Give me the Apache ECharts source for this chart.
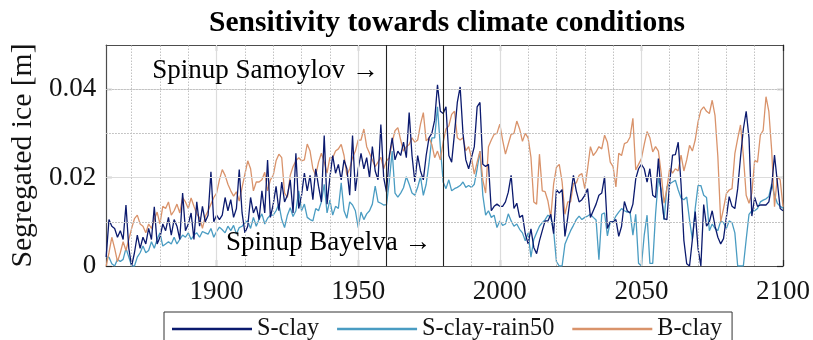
<!DOCTYPE html>
<html>
<head>
<meta charset="utf-8">
<script src="https://cdn.jsdelivr.net/npm/echarts@6/dist/echarts.min.js"></script>
<style>
  html, body { margin: 0; padding: 0; background: #fff; }
  #chart { width: 813px; height: 340px; }
</style>
</head>
<body>
<div id="chart"></div>
<script>
// Annual segregated ice, 1861-2100, one value per year (m)
const firstYear = 1861;
const lastYear = 2100;

const sClay = [
  0.002, 0.0105, 0.009, 0.0085, 0.0065, 0.008, 0.006, 0.0138, 0.004, 0.000,
  0.003, 0.007, 0.004, 0.0065, 0.005, 0.0085, 0.006, 0.0134, 0.005, 0.0065,
  0.0095, 0.008, 0.011, 0.007, 0.0105, 0.009, 0.006, 0.0165, 0.008, 0.0095,
  0.012, 0.006, 0.0145, 0.009, 0.0135, 0.010, 0.0115, 0.0213, 0.010, 0.0115,
  0.0105, 0.0115, 0.0155, 0.0125, 0.015, 0.011, 0.013, 0.0218, 0.012, 0.0075,
  0.009, 0.0155, 0.012, 0.0135, 0.0105, 0.017, 0.012, 0.024, 0.011, 0.014,
  0.018, 0.0125, 0.019, 0.0145, 0.016, 0.0195, 0.012, 0.0255, 0.013, 0.016,
  0.021, 0.017, 0.0205, 0.015, 0.022, 0.018, 0.0145, 0.0295, 0.014, 0.020,
  0.025, 0.021, 0.023, 0.0195, 0.024, 0.022, 0.016, 0.0295, 0.017, 0.022,
  0.0255, 0.022, 0.0245, 0.020, 0.027, 0.0215, 0.0195, 0.032, 0.020, 0.0167,
  0.025, 0.029, 0.024, 0.026, 0.025, 0.028, 0.0245, 0.0347, 0.025, 0.019,
  0.025, 0.0215, 0.0195, 0.025, 0.029, 0.030, 0.033, 0.041, 0.035, 0.0345,
  0.036, 0.025, 0.0235, 0.030, 0.037, 0.0405, 0.030, 0.024, 0.022, 0.0245,
  0.027, 0.036, 0.037, 0.023, 0.0225, 0.023, 0.0125, 0.0135, 0.014, 0.0135,
  0.0135, 0.0145, 0.0167, 0.0205, 0.013, 0.0142, 0.011, 0.0115, 0.0073, 0.005,
  0.0084, 0.0042, 0.0028, 0.0057, 0.008, 0.0102, 0.0102, 0.0117, 0.0073, 0.0173,
  0.0165, 0.0173, 0.0067, 0.011, 0.016, 0.0205, 0.017, 0.0145, 0.015, 0.016,
  0.0175, 0.011, 0.0125, 0.014, 0.016, 0.0165, 0.0202, 0.0085, 0.010, 0.010,
  0.0105, 0.0067, 0.009, 0.0146, 0.0125, 0.012, 0.014, 0.0197, 0.022, 0.023,
  0.022, 0.019, 0.022, 0.016, 0.0155, 0.0243, 0.016, 0.0107, 0.0105, 0.019,
  0.0251, 0.0252, 0.028, 0.0185, 0.0058, 0.0005, 0.000, 0.006, 0.0123, 0.004,
  0.000, 0.0139, 0.009, 0.010, 0.0125, 0.009, 0.0065, 0.005, 0.0062, 0.011,
  0.0157, 0.0135, 0.013, 0.0175, 0.0246, 0.031, 0.035, 0.029, 0.0113, 0.0155,
  0.0135, 0.0138, 0.0138, 0.0138, 0.0145, 0.018, 0.0251, 0.019, 0.013, 0.0125
];

const sClayRain50 = [
  0.002, 0.002, 0.0005, 0.000, 0.0015, 0.001, 0.0015, 0.004, 0.002, 0.000,
  0.000, 0.002, 0.003, 0.0045, 0.003, 0.0035, 0.0055, 0.004, 0.006, 0.0075,
  0.0045, 0.005, 0.0055, 0.005, 0.0065, 0.005, 0.006, 0.007, 0.0065, 0.0075,
  0.006, 0.007, 0.0075, 0.0065, 0.0078, 0.0075, 0.0072, 0.0085, 0.0065, 0.0078,
  0.0088, 0.0082, 0.0075, 0.009, 0.008, 0.0092, 0.0072, 0.0087, 0.009, 0.0098,
  0.0102, 0.0085, 0.011, 0.009, 0.0106, 0.0118, 0.0095, 0.0108, 0.0115, 0.0115,
  0.0125, 0.014, 0.0105, 0.0087, 0.0115, 0.0132, 0.0112, 0.0125, 0.017, 0.0125,
  0.014, 0.011, 0.0105, 0.0102, 0.013, 0.0125, 0.0145, 0.0185, 0.012, 0.0149,
  0.0115, 0.0135, 0.013, 0.0188, 0.0125, 0.0108, 0.0145, 0.0138, 0.0125, 0.0087,
  0.0122, 0.0105, 0.0118, 0.0125, 0.014, 0.0181, 0.0145, 0.0142, 0.0138, 0.0139,
  0.0193, 0.026, 0.0165, 0.0156, 0.0165, 0.0177, 0.0202, 0.0185, 0.0165, 0.016,
  0.0178, 0.0202, 0.016, 0.0185, 0.0232, 0.029, 0.029, 0.036, 0.027, 0.019,
  0.0175, 0.0195, 0.017, 0.0175, 0.0178, 0.0182, 0.019, 0.0178, 0.0182, 0.0178,
  0.0185, 0.022, 0.026, 0.016, 0.0115, 0.0125, 0.011, 0.0115, 0.0087, 0.0102,
  0.0092, 0.0095, 0.0118, 0.0102, 0.009, 0.0095, 0.0083, 0.0075, 0.0057, 0.0075,
  0.002, 0.006, 0.0075, 0.009, 0.0098, 0.0105, 0.0115, 0.011, 0.008, 0.001,
  0.000, 0.000, 0.0049, 0.0065, 0.008, 0.0092, 0.0105, 0.0113, 0.0105, 0.011,
  0.0113, 0.0117, 0.011, 0.0104, 0.0014, 0.0117, 0.012, 0.0068, 0.010, 0.010,
  0.0113, 0.0122, 0.013, 0.0125, 0.0122, 0.0122, 0.007, 0.0117, 0.0006, 0.000,
  0.007, 0.0115, 0.0006, 0.0006, 0.0117, 0.0199, 0.0173, 0.0104, 0.0179, 0.0186,
  0.019, 0.0194, 0.0172, 0.0154, 0.015, 0.0156, 0.0104, 0.006, 0.013, 0.0182,
  0.0182, 0.016, 0.0155, 0.008, 0.0095, 0.0085, 0.008, 0.0102, 0.0098, 0.0085,
  0.0102, 0.0098, 0.0075, 0.000, 0.000, 0.000, 0.006, 0.0117, 0.0125, 0.0125,
  0.013, 0.0145, 0.0149, 0.0152, 0.0157, 0.0186, 0.016, 0.0142, 0.0135, 0.0131
];

const bClay = [
  0.000, 0.003, 0.0065, 0.004, 0.001, 0.003, 0.0055, 0.0035, 0.006, 0.0085,
  0.0107, 0.0115, 0.0095, 0.009, 0.0075, 0.0095, 0.0085, 0.0105, 0.0122, 0.0095,
  0.0135, 0.013, 0.0145, 0.0115, 0.0125, 0.014, 0.012, 0.0155, 0.0145, 0.013,
  0.0154, 0.0135, 0.0118, 0.0109, 0.0085, 0.0112, 0.0125, 0.014, 0.0155, 0.0165,
  0.0195, 0.0218, 0.0205, 0.0185, 0.017, 0.0158, 0.0168, 0.0147, 0.0178, 0.0208,
  0.0238, 0.022, 0.017, 0.019, 0.019, 0.0195, 0.0212, 0.017, 0.0195, 0.0205,
  0.0238, 0.0253, 0.0245, 0.0165, 0.0155, 0.0205, 0.0225, 0.0238, 0.0245, 0.0238,
  0.024, 0.0276, 0.026, 0.022, 0.0205, 0.0235, 0.0255, 0.0235, 0.021, 0.0245,
  0.0245, 0.026, 0.0265, 0.0275, 0.025, 0.0205, 0.022, 0.0245, 0.026, 0.0285,
  0.0285, 0.031, 0.027, 0.0255, 0.024, 0.0225, 0.0235, 0.0246, 0.022, 0.0238,
  0.0245, 0.028, 0.0306, 0.0313, 0.0285, 0.026, 0.027, 0.0275, 0.029, 0.028,
  0.0285, 0.0321, 0.0347, 0.0283, 0.029, 0.0275, 0.0245, 0.026, 0.024, 0.028,
  0.031, 0.0317, 0.0343, 0.035, 0.029, 0.0285, 0.029, 0.0261, 0.027, 0.0245,
  0.0208, 0.0235, 0.026, 0.0195, 0.0165, 0.027, 0.0285, 0.0298, 0.030, 0.0321,
  0.0285, 0.0253, 0.0276, 0.0298, 0.030, 0.0328, 0.031, 0.0282, 0.030, 0.029,
  0.0246, 0.0145, 0.014, 0.0253, 0.017, 0.0168, 0.0147, 0.011, 0.0185, 0.0223,
  0.023, 0.019, 0.0117, 0.0145, 0.0145, 0.0187, 0.0188, 0.0205, 0.0209, 0.0175,
  0.022, 0.027, 0.025, 0.0258, 0.027, 0.0265, 0.0296, 0.028, 0.0235, 0.0225,
  0.0179, 0.0255, 0.025, 0.0277, 0.028, 0.0292, 0.0334, 0.0217, 0.023, 0.0243,
  0.0275, 0.0304, 0.029, 0.0258, 0.027, 0.026, 0.0209, 0.0142, 0.0175, 0.0221,
  0.021, 0.022, 0.0215, 0.0251, 0.0215, 0.024, 0.0273, 0.026, 0.0285, 0.0326,
  0.0352, 0.036, 0.035, 0.0345, 0.0375, 0.034, 0.0247, 0.010, 0.013, 0.0164,
  0.0172, 0.0175, 0.0254, 0.0288, 0.0319, 0.025, 0.016, 0.0142, 0.0165, 0.0239,
  0.0235, 0.0296, 0.0307, 0.0383, 0.035, 0.0262, 0.0134, 0.0202, 0.0195, 0.0134
];

const seriesNames = ['S-clay', 'S-clay-rain50', 'B-clay'];
const xTickValues = [1900, 1950, 2000, 2050, 2100];
const yTickValues = [0, 0.02, 0.04];
const xMinorGrid = [1870, 1880, 1890, 1910, 1920, 1930, 1940, 1970, 1990,
                    2010, 2020, 2030, 2040, 2060, 2070, 2080, 2090];
const yMinorGrid = [0.005, 0.01, 0.015, 0.025, 0.03, 0.035, 0.045];
const spinupYears = [1960, 1980];
const spinupLabels = [
  { name: 'Spinup Samoylov \u2192', year: 1959, value: 0.0441 },
  { name: 'Spinup Bayelva \u2192', year: 1977.6, value: 0.0052 }
];

const years = [];
for (let y = firstYear; y <= lastYear; y++) years.push(y);
const pairs = vals => years.map((y, i) => [y, vals[i]]);

const serif = '"Liberation Serif", "Times New Roman", "DejaVu Serif", serif';
const axisColor = '#4d4d4d';
const textColor = '#141414';

// Grid: solid light lines at major ticks, dotted lines at minor steps, plus the two spinup markers
const gridLines = [];
xTickValues.slice(0, 4).forEach(v => gridLines.push({ xAxis: v, lineStyle: { color: '#dcdcdc', width: 1.2, type: 'solid' } }));
yTickValues.slice(1).forEach(v => gridLines.push({ yAxis: v, lineStyle: { color: '#dcdcdc', width: 1.2, type: 'solid' } }));
xMinorGrid.forEach(v => gridLines.push({ xAxis: v, lineStyle: { color: '#c2c2c2', width: 1, type: [1.5, 1.5] } }));
yMinorGrid.forEach(v => gridLines.push({ yAxis: v, lineStyle: { color: '#c2c2c2', width: 1, type: [1.5, 1.5] } }));
spinupYears.forEach(v => gridLines.push({ xAxis: v, lineStyle: { color: '#222', width: 1.1, type: 'solid' } }));

const commonX = {
  type: 'value', min: firstYear, max: lastYear,
  axisLine: { show: true, onZero: false, lineStyle: { color: axisColor, width: 1.2 } },
  axisTick: { show: true, inside: true, length: 6, customValues: xTickValues, lineStyle: { color: '#222', width: 1.2 } },
  splitLine: { show: false }
};
const commonY = {
  type: 'value', min: 0, max: 0.05,
  axisLine: { show: true, onZero: false, lineStyle: { color: axisColor, width: 1.2 } },
  axisTick: { show: true, inside: true, length: 6, customValues: yTickValues, lineStyle: { color: '#222', width: 1.2 } },
  splitLine: { show: false }
};

const chart = echarts.init(document.getElementById('chart'), null, { renderer: 'canvas' });
chart.setOption({
  animation: false,
  backgroundColor: '#ffffff',
  title: {
    text: 'Sensitivity towards climate conditions',
    left: 204, top: 3,
    textStyle: { fontFamily: serif, fontWeight: 'bold', fontSize: 29.5, color: '#000' }
  },
  grid: { left: 104, right: 27, top: 45, bottom: 74, containLabel: false },
  legend: {
    data: seriesNames,
    left: 164, top: 312,
    padding: [5, 10, 14, 8],
    itemGap: 18,
    itemWidth: 80, itemHeight: 2.5,
    icon: 'rect',
    borderColor: '#333', borderWidth: 1,
    textStyle: { fontFamily: serif, fontSize: 24.3, color: textColor }
  },
  xAxis: [
    Object.assign({}, commonX, {
      position: 'bottom',
      axisLabel: { show: true, customValues: xTickValues, margin: 12, fontFamily: serif, fontSize: 27, color: textColor,
                   formatter: v => String(Math.round(v)) }
    }),
    Object.assign({}, commonX, { position: 'top', axisLabel: { show: false } })
  ],
  yAxis: [
    Object.assign({}, commonY, {
      position: 'left',
      name: 'Segregated ice [m]', nameLocation: 'middle', nameGap: 64,
      nameTextStyle: { fontFamily: serif, fontSize: 29.7, color: textColor },
      axisLabel: {
        show: true, customValues: yTickValues, margin: 10, fontFamily: serif, fontSize: 27, color: textColor,
        formatter: v => (v === 0 ? '0' : String(v))
      }
    }),
    Object.assign({}, commonY, { position: 'right', axisLabel: { show: false } })
  ],
  series: [
    {
      name: 'guides', type: 'line', data: [], z: 1, silent: true,
      markLine: { symbol: ['none', 'none'], silent: true, animation: false, label: { show: false }, data: gridLines },
      markPoint: {
        symbol: 'circle', symbolSize: 0, silent: true, animation: false,
        label: { show: true, position: 'left', distance: 5, fontFamily: serif, fontSize: 27, color: '#000', formatter: p => p.name },
        data: spinupLabels.map(s => ({ name: s.name, coord: [s.year, s.value] }))
      }
    },
    {
      name: seriesNames[0], type: 'line', data: pairs(sClay), showSymbol: false, z: 3,
      lineStyle: { width: 1.3, color: '#0b1a6e' }, itemStyle: { color: '#0b1a6e' }
    },
    {
      name: seriesNames[1], type: 'line', data: pairs(sClayRain50), showSymbol: false, z: 2,
      lineStyle: { width: 1.3, color: '#4a9cc2' }, itemStyle: { color: '#4a9cc2' }
    },
    {
      name: seriesNames[2], type: 'line', data: pairs(bClay), showSymbol: false, z: 2,
      lineStyle: { width: 1.3, color: '#d9936b' }, itemStyle: { color: '#d9936b' }
    }
  ]
});
</script>
</body>
</html>
